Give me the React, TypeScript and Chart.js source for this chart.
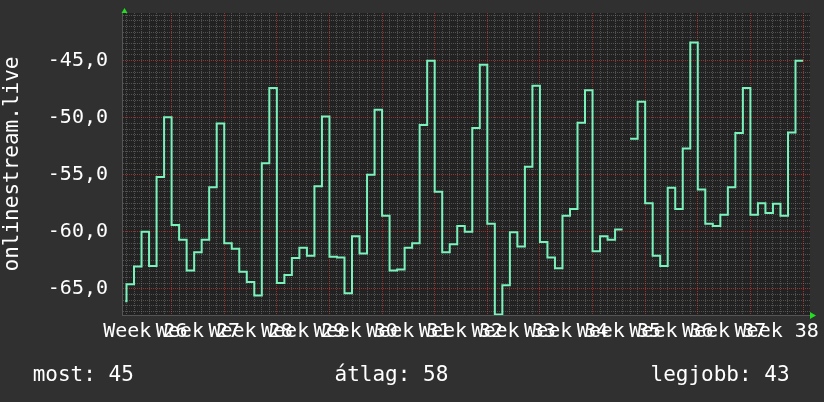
import React, { useEffect, useRef } from 'react';
import { Chart, registerables } from 'chart.js';

Chart.register(...registerables);

// ---- data ----
const WEEK_NUMBERS = [26, 27, 28, 29, 30, 31, 32, 33, 34, 35, 36, 37, 38];
const WEEK_LABELS = WEEK_NUMBERS.map((n) => `Week ${n}`);

// one value per day (day k spans [k, k+1]); null = no data
const DAILY_VALUES: (number | null)[] = [
  -66.1, -64.6, -63.05, -60.0, -63.0, -55.2, -49.95,
  -59.4, -60.7, -63.4, -61.8, -60.7, -56.1, -50.5,
  -61.0, -61.5, -63.5, -64.4, -65.6, -54.0, -47.4,
  -64.5, -63.8, -62.3, -61.4, -62.1, -56.0, -49.9,
  -62.2, -62.25, -65.4, -60.4, -61.9, -55.0, -49.3,
  -58.6, -63.4, -63.3, -61.4, -61.0, -50.65, -45.0,
  -56.5, -61.8, -61.1, -59.5, -60.0, -50.9, -45.35,
  -59.3, -67.25, -64.7, -60.05, -61.3, -54.3, -47.2,
  -60.9, -62.25, -63.2, -58.6, -58.0, -50.45, -47.6,
  -61.7, -60.4, -60.7, -59.8, null, -51.85, -48.6,
  -57.5, -62.1, -63.0, -56.15, -58.0, -52.7, -43.4,
  -56.3, -59.3, -59.5, -58.5, -56.1, -51.35, -47.4,
  -58.5, -57.5, -58.35, -57.55, -58.6, -51.3, -45.0,
];
const FIRST_DAY_START = 0.83; // the first day is only partly inside the window

const LEGEND_NAMES = ['most', 'átlag', 'legjobb'];
const LEGEND_VALUES = ['45', '58', '43'];
const AXIS_TITLE = 'onlinestream.live';

// ---- axis ranges ----
const X_MIN = 0.467;
const X_MAX = 91.93;
const Y_MIN = -67.3;
const Y_MAX = -40.82;
const DAYS_PER_WEEK = 7;
const Y_LABEL_STEP = 5;
const Y_MINOR_STEP = 0.5;

const FONT = "'DejaVu Sans Mono', monospace";
const LINE_COLOR = '#7af2bc';
const MINOR_GRID = 'rgba(140,140,140,0.45)';
const MAJOR_GRID = 'rgba(255,60,60,0.55)';
const TEXT_COLOR = '#ffffff';

function buildPoints() {
  const pts: { x: number; y: number | null }[] = [];
  DAILY_VALUES.forEach((v, k) => {
    if (v === null) {
      pts.push({ x: k + 0.5, y: null });
      return;
    }
    const start = k === 0 ? FIRST_DAY_START : k;
    pts.push({ x: start, y: v });
    pts.push({ x: k + 1, y: v });
  });
  return pts;
}

const isMultiple = (v: number, step: number) =>
  Math.abs(v / step - Math.round(v / step)) < 1e-6;

const decorPlugin = {
  id: 'decor',
  beforeDraw(chart: any) {
    const { ctx, chartArea: a } = chart;
    ctx.save();
    ctx.fillStyle = '#222222';
    ctx.fillRect(a.left, a.top, a.right - a.left, a.bottom - a.top);
    ctx.restore();
  },
  afterDraw(chart: any) {
    const { ctx, chartArea: a } = chart;
    ctx.save();
    ctx.fillStyle = '#22dd22';
    const lx = Math.round(a.left) + 1.5;
    ctx.beginPath();
    ctx.moveTo(lx - 3, a.top);
    ctx.lineTo(lx + 3, a.top);
    ctx.lineTo(lx, a.top - 5);
    ctx.closePath();
    ctx.fill();
    const by = Math.round(a.bottom) + 0.5;
    ctx.beginPath();
    ctx.moveTo(a.right, by - 3.5);
    ctx.lineTo(a.right, by + 3.5);
    ctx.lineTo(a.right + 6, by);
    ctx.closePath();
    ctx.fill();
    ctx.restore();
  },
};

export default function App() {
  const ref = useRef<HTMLCanvasElement | null>(null);

  useEffect(() => {
    document.body.style.margin = '0';
    document.body.style.background = '#303030';
    if (!ref.current) return;

    const dayTicks: number[] = [];
    for (let d = Math.ceil(X_MIN); d <= X_MAX; d++) dayTicks.push(d);
    const weekCenters = WEEK_LABELS.map((_, i) => i * DAYS_PER_WEEK + DAYS_PER_WEEK / 2);
    const yTicks: number[] = [];
    for (let v = Math.ceil(Y_MIN / Y_MINOR_STEP) * Y_MINOR_STEP; v <= Y_MAX; v += Y_MINOR_STEP) {
      yTicks.push(Math.round(v * 100) / 100);
    }

    const chart = new Chart(ref.current, {
      type: 'line',
      data: {
        datasets: [
          {
            data: buildPoints() as any,
            borderColor: LINE_COLOR,
            borderWidth: 2,
            pointRadius: 0,
            tension: 0,
            borderJoinStyle: 'miter',
            borderCapStyle: 'butt',
            spanGaps: false,
            fill: false,
          },
        ],
      },
      options: {
        animation: false,
        responsive: false,
        maintainAspectRatio: false,
        devicePixelRatio: 1,
        layout: { padding: { top: 13, right: 14, left: 0, bottom: 0 } },
        plugins: { legend: { display: false }, tooltip: { enabled: false }, title: { display: false } },
        scales: {
          x: {
            type: 'linear',
            min: X_MIN,
            max: X_MAX,
            weight: 0,
            afterBuildTicks: (s: any) => {
              s.ticks = dayTicks.map((v) => ({ value: v }));
            },
            afterFit: (s: any) => {
              s.height = 0;
              s.paddingLeft = 0;
              s.paddingRight = 0;
            },
            ticks: { display: false },
            grid: {
              drawTicks: false,
              color: (c: any) =>
                c.tick && isMultiple(c.tick.value, DAYS_PER_WEEK) ? MAJOR_GRID : MINOR_GRID,
            },
            border: { display: true, color: '#555555', width: 1, dash: [1, 1] },
          },
          x2: {
            type: 'linear',
            position: 'bottom',
            min: X_MIN,
            max: X_MAX,
            weight: 1,
            afterBuildTicks: (s: any) => {
              s.ticks = weekCenters.map((v) => ({ value: v }));
            },
            afterFit: (s: any) => {
              s.height = 87;
              s.paddingLeft = 0;
              s.paddingRight = 0;
            },
            ticks: {
              autoSkip: false,
              maxRotation: 0,
              minRotation: 0,
              padding: 5,
              color: TEXT_COLOR,
              font: { family: FONT, size: 20 },
              callback: (_v: any, i: number) => WEEK_LABELS[i],
            },
            grid: { display: false, drawTicks: false },
            border: { display: false },
          },
          y: {
            type: 'linear',
            min: Y_MIN,
            max: Y_MAX,
            afterBuildTicks: (s: any) => {
              s.ticks = yTicks.map((v) => ({ value: v }));
            },
            afterFit: (s: any) => {
              s.width = 122.5;
              s.paddingTop = 0;
              s.paddingBottom = 0;
            },
            ticks: {
              autoSkip: false,
              padding: 14.5,
              color: TEXT_COLOR,
              font: { family: FONT, size: 20 },
              callback: (v: any) =>
                isMultiple(Number(v), Y_LABEL_STEP) ? Number(v).toFixed(1).replace('.', ',') : '',
            },
            grid: {
              drawTicks: false,
              color: (c: any) =>
                c.tick && isMultiple(c.tick.value, Y_LABEL_STEP) ? MAJOR_GRID : MINOR_GRID,
            },
            border: { display: true, color: '#555555', width: 1, dash: [1, 1] },
            title: {
              display: true,
              text: AXIS_TITLE,
              color: TEXT_COLOR,
              font: { family: FONT, size: 21 },
              padding: { top: 0, bottom: 0 },
            },
          },
        },
      },
      plugins: [decorPlugin],
    });
    return () => chart.destroy();
  }, []);

  const legendLeft = [32.7, 334.5, 650.5];
  return (
    <div style={{ position: 'relative', width: 824, height: 402, background: '#303030', overflow: 'hidden' }}>
      <canvas ref={ref} width={824} height={402} style={{ display: 'block', width: 824, height: 402 }} />
      {LEGEND_NAMES.map((name, i) => (
        <span
          key={name}
          style={{
            position: 'absolute',
            left: legendLeft[i],
            top: 364,
            fontFamily: FONT,
            fontSize: 21,
            lineHeight: '21px',
            color: TEXT_COLOR,
            whiteSpace: 'pre',
          }}
        >
          {`${name}: ${LEGEND_VALUES[i]}`}
        </span>
      ))}
    </div>
  );
}
